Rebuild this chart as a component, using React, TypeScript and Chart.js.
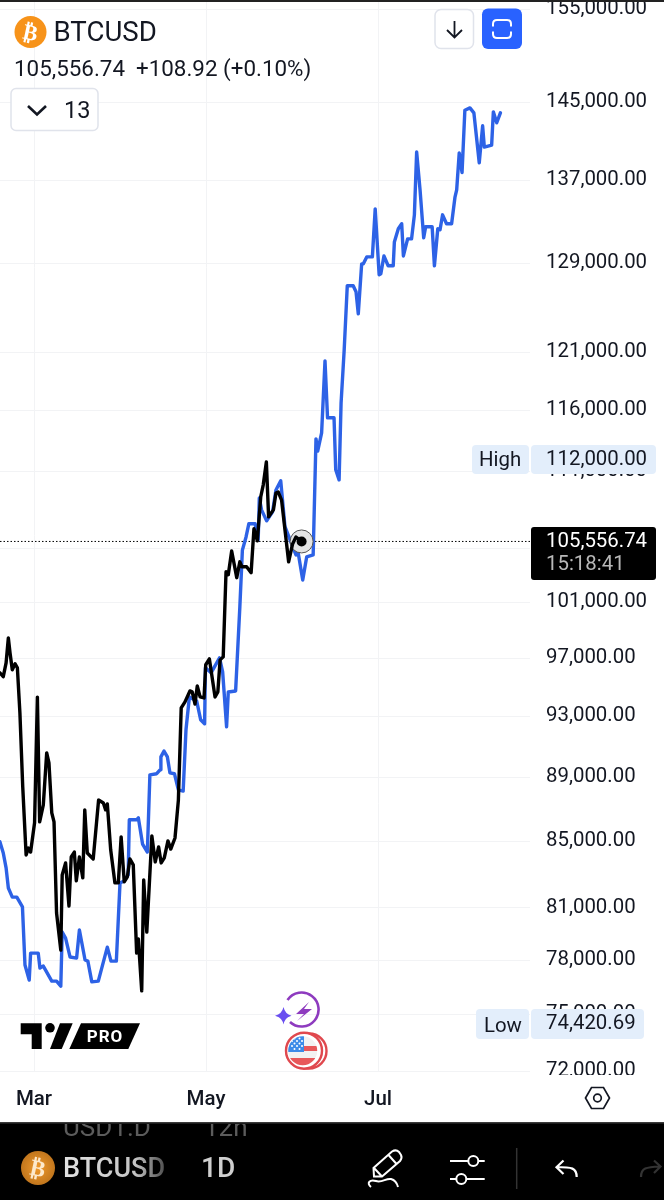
import React, { useEffect, useRef } from "react";
import { Chart, registerables } from "chart.js";

Chart.register(...registerables);

// Days counted from 1 March; prices in USD.
const blackDays = [-12.1,-10.9,-9.9,-9.1,-8.5,-7.7,-6.7,-5.9,-5,-4,-2.8,-2,-1.2,0.2,1.2,2,3.3,4.5,5.3,6.3,7.1,8,9.5,10,11.2,12.4,13.2,14.3,15,16.1,17.3,18,18.9,21,22.9,24.6,25.4,26,27.2,28.7,29.9,30.9,32,33.1,34,35.2,36.4,37,38.2,38.9,40,41.8,43,44.2,45.1,46.2,47.5,48.5,50,51.2,52.2,53.5,55.3,56.1,57.1,57.9,58.9,60.3,60.9,62.2,64.2,65.2,66,67.1,68.1,68.9,70.1,71.9,73,73.7,75.4,77,78,79.2,80.4,81.3,82.4,83.2,84.9,85.8,86.6,87.8,89,90.3,91.7,92.9,94.9];
const blackPrices = [96000,95730,96690,98445,97384,96210,96625,96350,93260,88420,84160,84580,84340,86140,94330,86200,87260,90600,89956,86760,86200,80707,78570,82960,83680,81113,84040,84340,82600,84040,82780,86947,84280,83920,87567,87380,86950,87320,84460,82480,82480,85270,82540,82840,83920,83560,78400,79210,76290,82660,79600,85330,83740,84650,83680,83980,85020,84520,85200,87567,93600,93990,94750,94690,93860,95100,94340,94270,96560,96970,94340,94690,96900,97110,103275,103050,104830,102830,104015,103645,103645,103200,106530,105600,109000,109965,111805,107450,107990,109320,109400,108763,106440,104015,105365,105900,105556.74];
const blueDays = [-12.1,-10.9,-9.9,-9.1,-7.7,-6.1,-4.1,-3.2,-1.7,-1.2,1.5,2.1,3.3,6.3,8,9.5,10,11.2,12.8,15.1,16.1,18.1,19.1,20.5,22.8,26,27.3,29.2,30.5,31.9,33.4,33.8,36.4,37,38.5,40.2,41.1,43.5,44.7,45,46.1,47.3,48.2,49.8,51.2,52.9,53.9,55.1,57.7,59.1,60.5,60.8,62.8,65.8,66.9,68.3,68.9,71.5,73,73.9,75.2,76.2,78.4,79.5,79.9,80.7,82.5,84.6,85.8,87.5,89,90.5,91.9,92.9,93.7,95.3,96.7,99,100,100.6,102,103.2,104.1,106.4,107,108.2,108.9,110,111.1,113.2,114.2,115,116.2,116.8,118,120,121,122.4,123,124.1,125.6,127.4,127.8,129.2,130.4,131,132.5,133.9,134.9,135.7,136.9,138.2,138.9,141.2,142,143.2,144,144.9,146.3,148.1,149.3,149.9,150.8,151.8,152.8,154.6,156,157.9,159.1,159.7,162.3,162.9,164.1,165.4];
const bluePrices = [84963,84280,83380,82180,81640,81640,81060,77730,76890,78400,78400,77560,77670,76830,76830,76550,79605,79260,78180,78120,79720,78010,77950,76790,76830,78740,77950,77950,82480,82600,82960,86330,86330,86450,84830,84340,89180,89250,89500,90340,90720,90340,89310,89250,88210,88140,92130,94340,94060,92800,92530,96350,96000,97040,96070,92330,94680,94750,100680,104900,105900,106920,106920,105670,108920,107990,107140,107840,109560,110280,106700,105850,105060,104530,104680,102660,104380,104530,113680,112680,114170,120270,115420,115420,111165,110360,116660,121213,126980,126980,126430,124430,129000,129000,129650,129650,134220,127990,128080,129740,128820,128820,131060,132310,132790,129740,131350,131350,133650,139860,136100,131450,132500,132500,128820,132310,132210,133650,132790,132790,135380,136090,139760,137790,144140,144385,143870,138770,142530,140360,140560,143970,142840,143870];
const priceTicks = [72000,75000,78000,81000,85000,89000,93000,97000,101000,105000,111000,116000,121000,129000,137000,145000,155000];
const monthTickDays = [0,61,122];
const monthNames = ["Mar","May","Jul"];
const lastPrice = 105556.74;
const lastDay = 94.9;
const highLabel = "112,000.00";
const lowLabel = "74,420.69";

const money = (v: number) => v.toLocaleString("en-US", { minimumFractionDigits: 2, maximumFractionDigits: 2 });
const FONT = "Roboto";
const INK = "#131722";
const GRID = "#f2f3f5";

const noScalePadding = (s: any) => {
  s.paddingTop = 0;
  s.paddingBottom = 0;
  s.paddingLeft = 0;
  s.paddingRight = 0;
  if (s._margins) {
    s._margins.top = 0;
    s._margins.bottom = 0;
    s._margins.left = 0;
    s._margins.right = 0;
  }
};

function Overlay() {
  const txt = { fontFamily: FONT };
  return (
    <svg width={664} height={1200} style={{ position: "absolute", left: 0, top: 0 }}>
      <defs>
        <linearGradient id="fade" x1="63" x2="166" y1="0" y2="0" gradientUnits="userSpaceOnUse">
          <stop offset="0" stopColor="#e2e2e2" />
          <stop offset="0.7" stopColor="#c4c4c4" />
          <stop offset="1" stopColor="#4a4a4a" />
        </linearGradient>
        <radialGradient id="coin" cx="0.5" cy="0.5" r="0.6">
          <stop offset="0" stopColor="#f09a2c" />
          <stop offset="1" stopColor="#b86f1a" />
        </radialGradient>
        <clipPath id="barClip"><rect x="0" y="1124" width="664" height="20" /></clipPath>
        <clipPath id="flagClip"><circle cx="302.7" cy="1050.7" r="14.5" /></clipPath>
      </defs>

      {/* top strip */}
      <rect x="0" y="0" width="664" height="2" fill="#222" />

      {/* header */}
      <circle cx="30.5" cy="32" r="16" fill="#f7931a" />
      <text x="30.5" y="40" textAnchor="middle" fontSize="22" fontWeight="700" fill="#fff" fontFamily="DejaVu Sans" transform="rotate(12 30.5 32)">₿</text>
      <text x="53.5" y="41" fontSize="27.6" fill={INK} style={txt}>BTCUSD</text>
      <text x="14" y="76" fontSize="22.4" fill={INK} style={txt}>105,556.74</text>
      <text x="136" y="76" fontSize="22.4" fill={INK} style={txt}>+108.92 (+0.10%)</text>
      <rect x="11" y="88.5" width="87" height="42" rx="5" fill="#fff" stroke="#e0e3eb" strokeWidth="1.5" />
      <path d="M28 106 L37 114.5 L46 106" fill="none" stroke={INK} strokeWidth="2.6" />
      <text x="64" y="118" fontSize="23.5" fill={INK} style={txt}>13</text>

      {/* top buttons */}
      <rect x="435" y="9.5" width="38.5" height="39" rx="6" fill="#fff" stroke="#e0e3eb" strokeWidth="1.5" />
      <path d="M454.5 21 V37 M447 30 L454.5 37.5 L462 30" fill="none" stroke={INK} strokeWidth="1.8" />
      <rect x="482" y="8.5" width="40" height="40.5" rx="6" fill="#2962ff" />
      <path d="M493 26.5 V24 Q493 20 497 20 H507 Q511 20 511 24 V26.5 M493 31.5 V34 Q493 38 497 38 H507 Q511 38 511 34 V31.5" fill="none" stroke="#fff" strokeWidth="2" />

      {/* high pill */}
      <rect x="472" y="445" width="57" height="29" rx="4" fill="#e3eefb" />
      <rect x="531" y="445" width="125" height="29" rx="4" fill="#e3eefb" />
      <text x="479" y="466" fontSize="20.4" fill={INK} style={txt}>High</text>
      <text x="546" y="465" fontSize="20.4" fill={INK} style={txt}>{highLabel}</text>

      {/* last price tag */}
      <rect x="531" y="527" width="125" height="53" rx="3" fill="#000" />
      <text x="546" y="547" fontSize="20.4" fill="#fff" style={txt}>{money(lastPrice)}</text>
      <text x="546" y="570" fontSize="20.4" fill="#b8b8b8" style={txt}>15:18:41</text>

      {/* low pill */}
      <rect x="476" y="1009" width="53" height="30" rx="4" fill="#e3eefb" />
      <rect x="531" y="1009" width="113" height="30" rx="4" fill="#e3eefb" />
      <text x="484" y="1032" fontSize="20.4" fill={INK} style={txt}>Low</text>
      <text x="546" y="1029" fontSize="20.4" fill={INK} style={txt}>{lowLabel}</text>

      {/* cut under the last tick */}
      <rect x="530" y="1075" width="134" height="12" fill="#fff" />

      {/* logo */}
      <path d="M20.7 1023.3 H41.7 V1049 H31.7 V1034.3 H20.7 Z" fill="#000" />
      <circle cx="50" cy="1027.8" r="4.8" fill="#000" />
      <path d="M60 1023.3 H72.7 L61.7 1049 H50 Z" fill="#000" />
      <path d="M81 1023.3 H140 L128.3 1049 H69.3 Z" fill="#000" />
      <text x="105" y="1042" textAnchor="middle" fontSize="17" fontWeight="700" fill="#fff" letterSpacing="1" style={txt}>PRO</text>

      {/* badges */}
      <path d="M287.5 1000 A17 17 0 1 1 290 1022" fill="none" stroke="#8e3bbf" strokeWidth="2.6" />
      <path d="M309 1002 L296 1014 H304 L297 1021 L312 1009 H304 Z" fill="#8e3bbf" />
      <path d="M283.5 1007 Q285 1014 291.5 1015.7 Q285 1017.4 283.5 1024.5 Q282 1017.4 275 1015.7 Q282 1014 283.5 1007 Z" fill="#6a4ff0" />
      <circle cx="309" cy="1051" r="17.5" fill="#fff" stroke="#e0484e" strokeWidth="2.4" />
      <circle cx="304" cy="1050.7" r="18" fill="#fff" stroke="#e0484e" strokeWidth="2.4" />
      <g clipPath="url(#flagClip)">
        <rect x="288" y="1036" width="30" height="30" fill="#f2f2f2" />
        <rect x="288" y="1058" width="30" height="9" fill="#e8585a" />
        <rect x="303" y="1046" width="16" height="5" fill="#e8585a" />
        <rect x="288" y="1036" width="16" height="16" fill="#3d8be8" />
        <path d="M292 1041 h0.01 M297 1041 h0.01 M302 1041 h0.01 M292 1046 h0.01 M297 1046 h0.01 M302 1046 h0.01 M294.5 1038.5 h0.01 M299.5 1038.5 h0.01 M294.5 1043.5 h0.01 M299.5 1043.5 h0.01 M294.5 1049 h0.01 M299.5 1049 h0.01" stroke="#fff" strokeWidth="2" strokeLinecap="round" />
      </g>

      {/* settings hexagon */}
      <path d="M585.5 1098 L591.5 1087.5 H603.5 L609.5 1098 L603.5 1108.5 H591.5 Z" fill="none" stroke={INK} strokeWidth="1.7" />
      <circle cx="597.5" cy="1098" r="3.8" fill="none" stroke={INK} strokeWidth="1.7" />

      {/* bottom bar */}
      <rect x="0" y="1122" width="664" height="78" fill="#000" />
      <rect x="0" y="1122" width="664" height="1.5" fill="#3a3a3a" />
      <g clipPath="url(#barClip)">
        <text x="63" y="1136" fontSize="26" fill="#5c5c5c" style={txt}>USD1.D</text>
        <text x="204" y="1136" fontSize="26" fill="#5c5c5c" style={txt}>12h</text>
      </g>
      <circle cx="38" cy="1168" r="17" fill="url(#coin)" />
      <text x="38" y="1176" textAnchor="middle" fontSize="23" fontWeight="700" fill="#fde9cc" fontFamily="DejaVu Sans" transform="rotate(12 38 1168)">₿</text>
      <text x="63" y="1177" fontSize="27" fontWeight="500" fill="url(#fade)" style={txt}>BTCUSD</text>
      <text x="201" y="1177" fontSize="28" fontWeight="500" fill="#cfcfcf" style={txt}>1D</text>

      <path d="M374 1176.5 L373.5 1168 L392 1151.5 Q396 1149 399 1152 L401 1155 Q402.5 1158 400 1161 L382 1176.5 Z M388.5 1155 L397 1164.5 M374 1168 L382 1176.5" fill="none" stroke="#fff" strokeWidth="2" />
      <path d="M371 1187 C 366 1183 370 1179 376 1181 C 382 1183 386 1178 391 1179 C 395 1180 397 1183 398 1187" fill="none" stroke="#fff" strokeWidth="2" />
      <path d="M450 1161 H484.7 M450 1179 H484.7" stroke="#fff" strokeWidth="2" />
      <circle cx="473.3" cy="1161" r="5" fill="#000" stroke="#fff" strokeWidth="2" />
      <circle cx="461.3" cy="1179" r="5" fill="#000" stroke="#fff" strokeWidth="2" />
      <path d="M516.7 1148 V1189" stroke="#333" strokeWidth="1.5" />
      <path d="M576.7 1177 C 576.7 1168 572 1167 556.5 1167 M563.5 1160.5 L556.5 1167.3 L563.5 1174" fill="none" stroke="#fff" strokeWidth="2.2" />
      <path d="M641 1177 C 641 1168 646 1167 660 1166.5 M654 1160.5 L660.5 1166.5 L654 1173" fill="none" stroke="#333" strokeWidth="2.2" />
    </svg>
  );
}

export default function App() {
  const ref = useRef<HTMLCanvasElement>(null);
  useEffect(() => {
    const chart = new Chart(ref.current!, {
      type: "line",
      data: {
        datasets: [
          {
            label: "BTCUSD",
            data: blackDays.map((x, i) => ({ x, y: blackPrices[i] })),
            borderColor: "#000",
            backgroundColor: "#000",
            borderWidth: 3.4,
            tension: 0,
            borderJoinStyle: "round",
            borderCapStyle: "round",
            pointBorderWidth: 0,
            pointRadius: (c: any) => (c.dataIndex === blackDays.length - 1 ? 5 : 0),
          },
          {
            label: "Last",
            data: [{ x: lastDay, y: lastPrice }],
            showLine: false,
            pointRadius: 11.5,
            pointBackgroundColor: "#e4e4e4",
            pointBorderColor: "#555",
            pointBorderWidth: 1,
          },
          {
            label: "Projection",
            data: blueDays.map((x, i) => ({ x, y: bluePrices[i] })),
            borderColor: "#2d62e6",
            borderWidth: 3.4,
            tension: 0,
            borderJoinStyle: "round",
            borderCapStyle: "round",
            pointRadius: 0,
          },
          {
            label: "Price line",
            data: [{ x: -12.06, y: lastPrice }, { x: 175.9, y: lastPrice }],
            borderColor: "#000",
            borderWidth: 1,
            borderDash: [1.5, 2],
            pointRadius: 0,
          },
        ],
      },
      options: {
        responsive: false,
        animation: false,
        events: [],
        layout: { padding: 0, autoPadding: false },
        plugins: { legend: { display: false }, tooltip: { enabled: false } },
        scales: {
          x: {
            type: "linear",
            bounds: "data",
            min: -12.06,
            max: 175.9,
            afterFit: (s: any) => { s.height = 51; noScalePadding(s); },
            afterBuildTicks: (s: any) => { s.ticks = monthTickDays.map((value) => ({ value })); },
            grid: { color: GRID, drawTicks: false, lineWidth: 1 },
            border: { display: false },
            ticks: {
              autoSkip: false,
              maxRotation: 0,
              padding: 17,
              color: INK,
              font: { family: FONT, size: 20.5, weight: "500" },
              callback: (v: any) => monthNames[monthTickDays.indexOf(Number(v))] ?? "",
            },
          },
          y: {
            type: "logarithmic",
            position: "right",
            bounds: "data",
            min: 72000,
            max: 156090,
            afterFit: (s: any) => { s.width = 134; noScalePadding(s); },
            afterBuildTicks: (s: any) => { s.ticks = priceTicks.map((value) => ({ value, major: false })); },
            grid: { color: GRID, drawTicks: false, lineWidth: 1 },
            border: { display: false },
            ticks: {
              autoSkip: false,
              padding: 16,
              labelOffset: -0.5,
              color: INK,
              font: { family: FONT, size: 20.4 },
              callback: (v: any) => money(Number(v)),
            },
          },
        },
      },
    } as any);
    return () => chart.destroy();
  }, []);

  return (
    <div style={{ position: "absolute", left: 0, top: 0, width: 664, height: 1200, background: "#fff", overflow: "hidden" }}>
      <canvas ref={ref} width={664} height={1122} style={{ position: "absolute", left: 0, top: 0, display: "block" }} />
      <Overlay />
    </div>
  );
}
